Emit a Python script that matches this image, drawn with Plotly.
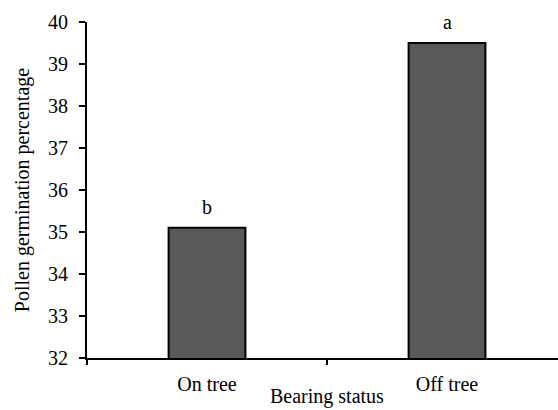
import plotly.graph_objects as go

categories = ["On tree", "Off tree"]
values = [35.1, 39.5]
letters = ["b", "a"]
y_ticks = [32, 33, 34, 35, 36, 37, 38, 39, 40]

FONT = "Liberation Serif"

fig = go.Figure()
fig.add_trace(go.Bar(
    x=categories, y=values, width=0.32,
    marker=dict(color="#595959", line=dict(color="black", width=2)),
    showlegend=False,
))
for c, v, t in zip(categories, values, letters):
    fig.add_annotation(x=c, y=v, text=t, showarrow=False, yanchor="bottom",
                       yshift=8, font=dict(family=FONT, size=20, color="black"))

fig.add_annotation(text="Bearing status", xref="paper", yref="paper", x=0.51, y=0,
                   yanchor="bottom", yshift=-52, showarrow=False,
                   font=dict(family=FONT, size=20, color="black"))

fig.update_layout(
    width=558, height=410,
    margin=dict(l=87, r=0, t=22, b=52, autoexpand=False),
    plot_bgcolor="white", paper_bgcolor="white",
    font=dict(family=FONT, size=20, color="black"),
)
fig.update_xaxes(
    range=[-0.5, 1.4625], showline=True, linecolor="black", linewidth=2,
    ticks="outside", tickson="boundaries", ticklen=5, tickwidth=2, tickcolor="black",
    ticklabelstandoff=7,
    tickfont=dict(family=FONT, size=20), showgrid=False, zeroline=False,
    automargin=False,
)
fig.update_yaxes(
    range=[32, 40], tickvals=y_ticks, showline=True, linecolor="black", linewidth=2,
    ticks="outside", ticklen=6, tickwidth=2, tickcolor="black",
    ticklabelstandoff=7,
    title=dict(text="Pollen germination percentage", standoff=13, font=dict(family=FONT, size=20)),
    tickfont=dict(family=FONT, size=20), showgrid=False, zeroline=False,
    automargin=False,
)

fig.write_html("out.html", config={"displayModeBar": False},
               post_script="document.body.style.margin='0px';")
